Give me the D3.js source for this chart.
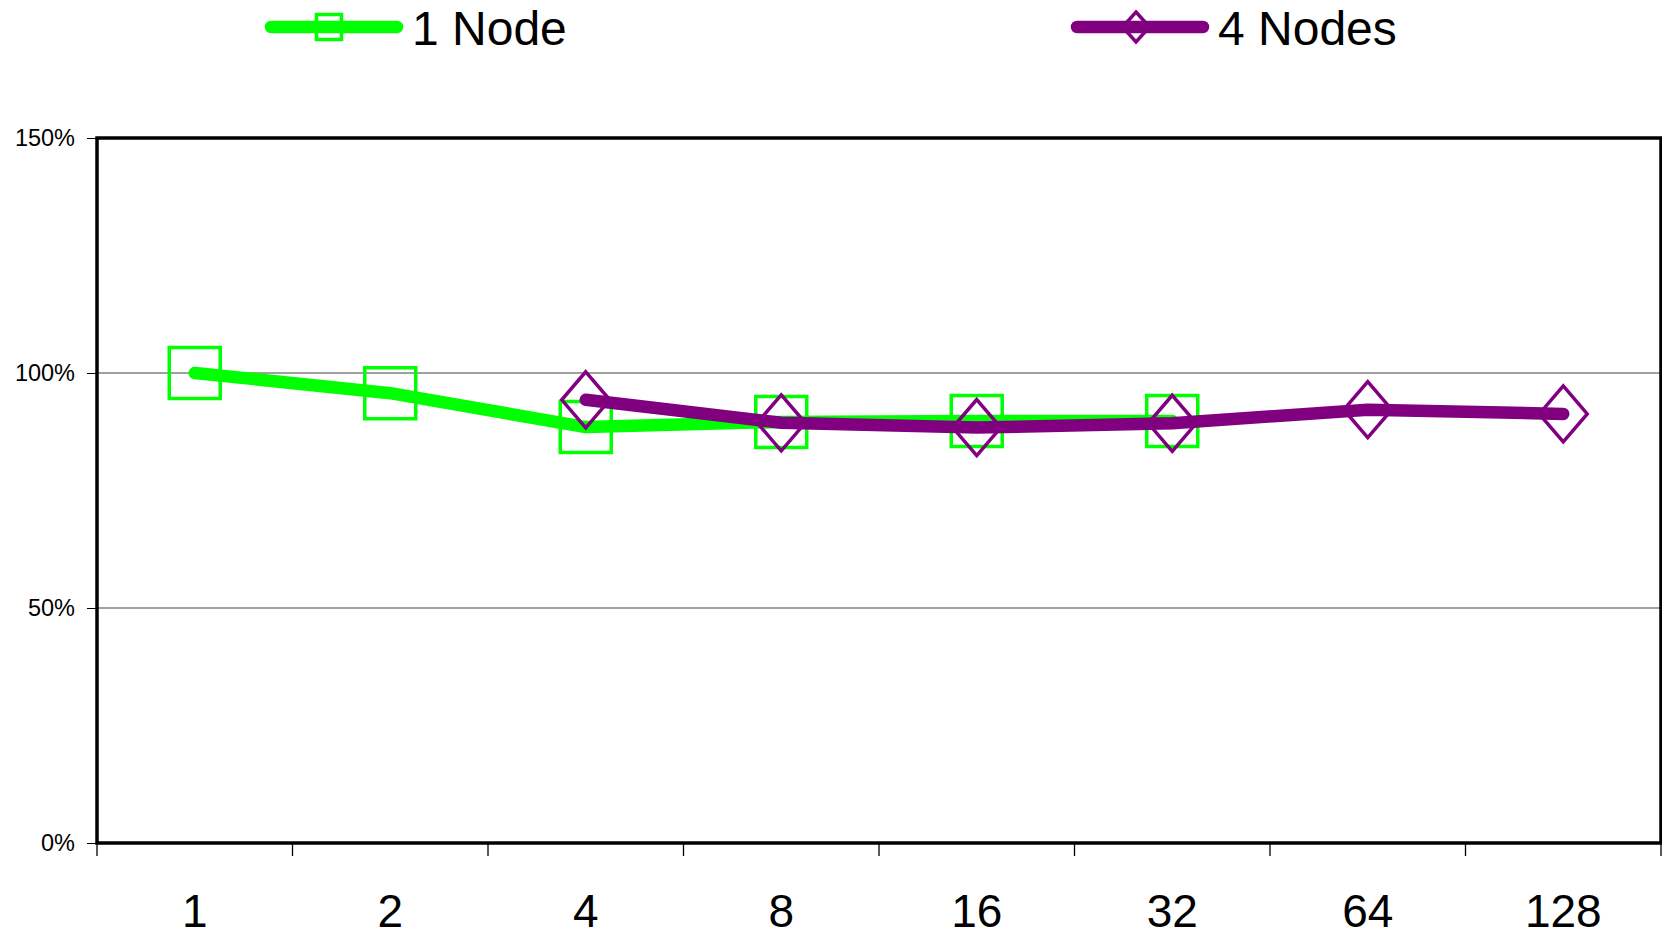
<!DOCTYPE html>
<html>
<head>
<meta charset="utf-8">
<script src="https://cdn.jsdelivr.net/npm/d3@7"></script>
<style>
  body { margin: 0; background: #fff; }
  text { font-family: "Liberation Sans", Arial, sans-serif; }
</style>
</head>
<body>
<div id="chart"></div>
<script>
// categories (number of processes) and scaled efficiency per series
var categories = ["1", "2", "4", "8", "16", "32", "64", "128"];
var oneNode   = [1.000, 0.957, 0.885, 0.896, 0.898, 0.898, null, null];
var fourNodes = [null, null, 0.943, 0.894, 0.884, 0.893, 0.922, 0.913];
var yTicks = [0, 0.5, 1.0, 1.5];
var seriesNames = ["1 Node", "4 Nodes"];

var width = 1662, height = 935;
var margin = {top: 138, right: 1, bottom: 92, left: 97};

var svg = d3.select("#chart").append("svg")
    .attr("width", width)
    .attr("height", height);

var x = d3.scaleBand()
    .domain(categories)
    .range([margin.left, width - margin.right]);

var y = d3.scaleLinear()
    .domain([0, 1.5])
    .range([height - margin.bottom, margin.top]);

// gridlines
svg.append("g")
  .selectAll("line")
  .data(yTicks.filter(function(d){ return d > 0 && d < 1.5; }))
  .enter().append("line")
    .attr("x1", x.range()[0])
    .attr("x2", x.range()[1])
    .attr("y1", function(d){ return y(d); })
    .attr("y2", function(d){ return y(d); })
    .style("stroke", "#808080")
    .style("stroke-width", 1.3);

// y axis
var yAxis = svg.append("g")
    .attr("transform", "translate(" + margin.left + ",0)")
    .call(d3.axisLeft(y).tickValues(yTicks).tickFormat(d3.format(".0%"))
      .tickSizeInner(10).tickSizeOuter(0).tickPadding(12));
yAxis.select(".domain").remove();
yAxis.selectAll("text").style("font-size", "23.5px").style("fill", "#000");
yAxis.selectAll("line").style("stroke", "#000");

// x axis labels
var xAxis = svg.append("g")
    .attr("transform", "translate(0," + y(0) + ")")
    .call(d3.axisBottom(x).tickSize(0).tickPadding(51));
xAxis.select(".domain").remove();
xAxis.selectAll("text").style("font-size", "46px").style("fill", "#000");

// x tick marks between categories
var bounds = categories.map(function(c){ return x(c); }).concat([x.range()[1]]);
svg.append("g")
  .selectAll("line")
  .data(bounds)
  .enter().append("line")
    .attr("x1", function(d){ return d; })
    .attr("x2", function(d){ return d; })
    .attr("y1", y(0))
    .attr("y2", y(0) + 13)
    .style("stroke", "#000")
    .style("stroke-width", 1.3);

// plot border
svg.append("rect")
    .attr("x", x.range()[0])
    .attr("y", y(1.5))
    .attr("width", x.range()[1] - x.range()[0])
    .attr("height", y(0) - y(1.5))
    .style("fill", "none")
    .style("stroke", "#000")
    .style("stroke-width", 3.5);

var line = d3.line()
    .defined(function(d){ return d.v != null; })
    .x(function(d){ return x(d.c) + x.bandwidth() / 2; })
    .y(function(d){ return y(d.v); });

function squarePath(cx, cy, s) {
  return "M" + (cx - s/2) + "," + (cy - s/2) + "h" + s + "v" + s + "h" + (-s) + "Z";
}
function diamondPath(cx, cy, w, h) {
  return "M" + cx + "," + (cy - h/2) + "L" + (cx + w/2) + "," + cy +
         "L" + cx + "," + (cy + h/2) + "L" + (cx - w/2) + "," + cy + "Z";
}

var series = [
  {name: seriesNames[0], values: oneNode, color: "#00ff00", marker: "square"},
  {name: seriesNames[1], values: fourNodes, color: "#800080", marker: "diamond"}
];

series.forEach(function(s) {
  var pts = categories.map(function(c, i){ return {c: c, v: s.values[i]}; });
  var g = svg.append("g");
  g.append("path")
      .datum(pts)
      .attr("d", line)
      .style("fill", "none")
      .style("stroke", s.color)
      .style("stroke-width", 12.5)
      .style("stroke-linecap", "round")
      .style("stroke-linejoin", "round");
  g.selectAll("path.marker")
      .data(pts.filter(function(d){ return d.v != null; }))
      .enter().append("path")
      .attr("class", "marker")
      .attr("d", function(d){
        var cx = x(d.c) + x.bandwidth() / 2, cy = y(d.v);
        return s.marker == "square" ? squarePath(cx, cy, 51) : diamondPath(cx, cy, 48, 56);
      })
      .style("fill", "none")
      .style("stroke", s.color)
      .style("stroke-width", 3.5);
});

// legend
var legendX = [265, 1071];
series.forEach(function(s, i) {
  var lg = svg.append("g").attr("transform", "translate(" + legendX[i] + ",27)");
  lg.append("line")
      .attr("x1", 6).attr("x2", 132)
      .attr("y1", 0).attr("y2", 0)
      .style("stroke", s.color)
      .style("stroke-width", 12.5)
      .style("stroke-linecap", "round");
  lg.append("path")
      .attr("d", s.marker == "square" ? squarePath(64, 0, 25) : diamondPath(65, 0, 27, 30))
      .style("fill", "none")
      .style("stroke", s.color)
      .style("stroke-width", 3.5);
  lg.append("text")
      .attr("x", 147)
      .attr("y", 18)
      .style("font-size", "48px")
      .style("fill", "#000")
      .text(s.name);
});
</script>
</body>
</html>
